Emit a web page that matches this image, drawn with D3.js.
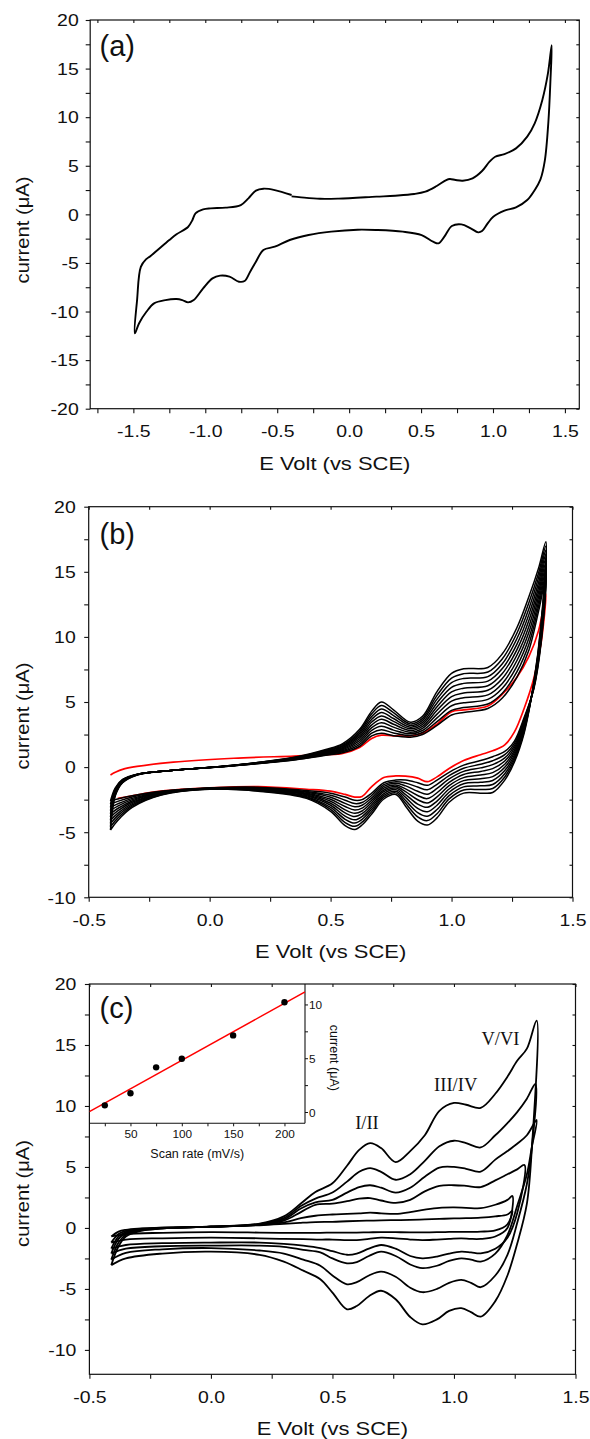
<!DOCTYPE html>
<html><head><meta charset="utf-8">
<script src="https://cdn.jsdelivr.net/npm/d3@7"></script>
<style>body{margin:0;background:#fff}svg{display:block}</style>
</head><body>
<script>
// ================= DATA =================
// ---- Panel (a): single CV loop, [E (V), I (uA)]
const aLoop = [
[-0.40,1.85],[-0.334,1.75],[-0.203,1.6],[-0.072,1.62],[0.19,1.82],[0.32,1.92],[0.452,2.09],[0.53,2.33],[0.609,2.92],[0.675,3.53],[0.70,3.64],[0.74,3.53],[0.79,3.46],[0.858,3.7],[0.924,4.46],[0.976,5.42],[1.015,5.93],[1.08,6.2],[1.16,6.79],[1.238,8.0],[1.29,9.37],[1.343,11.77],[1.382,14.5],[1.408,17.4],
[1.40,14.0],[1.385,9.5],[1.36,5.5],[1.33,3.6],[1.29,2.5],[1.238,1.47],[1.16,0.72],[1.08,0.38],[1.002,-0.24],[0.963,-0.93],[0.924,-1.72],[0.897,-1.85],[0.845,-1.44],[0.78,-1.03],[0.714,-1.2],[0.662,-2.3],[0.622,-2.98],[0.583,-2.81],[0.504,-2.13],[0.373,-1.78],[0.19,-1.61],[0.059,-1.58],[-0.125,-1.78],[-0.282,-2.13],[-0.413,-2.64],[-0.517,-3.33],[-0.596,-3.67],[-0.648,-4.87],[-0.688,-5.9],[-0.727,-6.86],[-0.766,-6.93],[-0.832,-6.41],[-0.897,-6.31],[-0.95,-6.59],[-1.015,-7.62],[-1.08,-8.82],[-1.12,-9.06],[-1.16,-8.82],[-1.2,-8.71],[-1.277,-8.82],[-1.356,-9.16],[-1.408,-10.0],[-1.46,-11.2],[-1.49,-12.25],
[-1.474,-8.8],[-1.448,-5.4],[-1.41,-4.6],[-1.382,-4.3],[-1.25,-2.64],[-1.2,-2.05],[-1.12,-1.3],[-1.09,-0.6],[-1.068,0.1],[-1.015,0.51],[-0.963,0.62],[-0.858,0.69],[-0.753,0.96],[-0.70,1.65],[-0.648,2.44],[-0.596,2.64],[-0.517,2.5],[-0.40,1.99]
];
const aXTickVals = [-1.5,-1.0,-0.5,0.0,0.5,1.0,1.5];
const aXTickLabels = ["-1.5","-1.0","-0.5","0.0","0.5","1.0","1.5"];
const aYTickVals = [-20,-15,-10,-5,0,5,10,15,20];
const aYTickLabels = ["-20","-15","-10","-5","0","5","10","15","20"];

// ---- Panel (b): repeated cycles; common potential grids
const bFwdE = [-0.41,-0.39,-0.36,-0.3,-0.15,0.1,0.35,0.48,0.55,0.62,0.67,0.71,0.76,0.83,0.88,0.94,1.0,1.05,1.15,1.21,1.27,1.32,1.36,1.39];
const bRevE = [1.37,1.34,1.3,1.26,1.22,1.17,1.12,1.05,0.99,0.94,0.9,0.86,0.81,0.77,0.72,0.67,0.63,0.6,0.56,0.5,0.4,0.2,0.0,-0.2,-0.32,-0.38];
const bCycleFwd = [
[-4.83,-2.2,-1.2,-0.6,-0.25,0.15,0.75,1.35,1.8,2.9,4.3,5.0,4.4,3.45,3.9,5.8,7.2,7.55,7.65,8.7,10.7,13.1,15.3,17.3],
[-4.58,-2.13,-1.17,-0.6,-0.25,0.14,0.73,1.3,1.72,2.76,4.09,4.73,4.18,3.32,3.74,5.51,6.84,7.18,7.3,8.32,10.28,12.64,14.93,16.99],
[-4.33,-2.07,-1.14,-0.59,-0.25,0.14,0.71,1.25,1.64,2.61,3.88,4.47,3.96,3.19,3.59,5.22,6.49,6.81,6.95,7.94,9.86,12.19,14.57,16.68],
[-4.09,-2.0,-1.12,-0.58,-0.25,0.13,0.68,1.2,1.57,2.47,3.67,4.2,3.73,3.07,3.43,4.93,6.13,6.43,6.6,7.57,9.43,11.73,14.2,16.37],
[-3.84,-1.93,-1.09,-0.58,-0.25,0.13,0.66,1.15,1.49,2.32,3.46,3.93,3.51,2.94,3.28,4.64,5.78,6.06,6.25,7.19,9.01,11.28,13.83,16.06],
[-3.59,-1.87,-1.06,-0.57,-0.25,0.12,0.64,1.1,1.41,2.18,3.24,3.67,3.29,2.81,3.12,4.36,5.42,5.69,5.9,6.81,8.59,10.82,13.47,15.74],
[-3.34,-1.8,-1.03,-0.57,-0.25,0.12,0.62,1.05,1.33,2.03,3.03,3.4,3.07,2.68,2.97,4.07,5.07,5.32,5.55,6.43,8.17,10.37,13.1,15.43],
[-3.09,-1.73,-1.0,-0.56,-0.25,0.11,0.6,1.0,1.26,1.89,2.82,3.13,2.84,2.56,2.81,3.78,4.71,4.94,5.2,6.06,7.74,9.91,12.73,15.12],
[-2.85,-1.67,-0.98,-0.56,-0.25,0.11,0.57,0.95,1.18,1.74,2.61,2.87,2.62,2.43,2.66,3.49,4.36,4.57,4.85,5.68,7.32,9.46,12.37,14.81],
[-2.6,-1.6,-0.95,-0.55,-0.25,0.1,0.55,0.9,1.1,1.6,2.4,2.6,2.4,2.3,2.5,3.2,4.0,4.2,4.5,5.3,6.9,9.0,12.0,14.5]
];
const bCycleRev = [
[11.0,6.5,2.6,0.4,-1.0,-1.95,-2.0,-2.0,-2.7,-3.9,-4.45,-4.15,-3.0,-2.1,-2.45,-3.6,-4.45,-4.8,-4.5,-3.4,-2.4,-1.85,-1.7,-2.15,-3.1,-4.1],
[10.83,6.44,2.73,0.58,-0.76,-1.64,-1.72,-1.76,-2.44,-3.58,-4.11,-3.82,-2.78,-1.98,-2.31,-3.42,-4.23,-4.55,-4.26,-3.24,-2.33,-1.82,-1.69,-2.12,-3.0,-3.92],
[10.67,6.39,2.87,0.76,-0.51,-1.34,-1.44,-1.52,-2.19,-3.26,-3.77,-3.49,-2.56,-1.86,-2.17,-3.24,-4.02,-4.3,-4.01,-3.09,-2.27,-1.78,-1.68,-2.08,-2.9,-3.73],
[10.5,6.33,3.0,0.93,-0.27,-1.03,-1.17,-1.28,-1.93,-2.93,-3.43,-3.17,-2.33,-1.73,-2.03,-3.07,-3.8,-4.05,-3.77,-2.93,-2.2,-1.75,-1.67,-2.05,-2.8,-3.55],
[10.33,6.28,3.13,1.11,-0.02,-0.73,-0.89,-1.04,-1.68,-2.61,-3.09,-2.84,-2.11,-1.61,-1.89,-2.89,-3.58,-3.8,-3.52,-2.78,-2.13,-1.72,-1.66,-2.02,-2.7,-3.37],
[10.17,6.22,3.27,1.29,0.22,-0.42,-0.61,-0.81,-1.42,-2.29,-2.76,-2.51,-1.89,-1.49,-1.76,-2.71,-3.37,-3.55,-3.28,-2.62,-2.07,-1.68,-1.64,-1.98,-2.6,-3.18],
[10.0,6.17,3.4,1.47,0.47,-0.12,-0.33,-0.57,-1.17,-1.97,-2.42,-2.18,-1.67,-1.37,-1.62,-2.53,-3.15,-3.3,-3.03,-2.47,-2.0,-1.65,-1.63,-1.95,-2.5,-3.0],
[9.83,6.11,3.53,1.64,0.71,0.19,-0.06,-0.33,-0.91,-1.64,-2.08,-1.86,-1.44,-1.24,-1.48,-2.36,-2.93,-3.05,-2.79,-2.31,-1.93,-1.62,-1.62,-1.92,-2.4,-2.82],
[9.67,6.06,3.67,1.82,0.96,0.49,0.22,-0.09,-0.66,-1.32,-1.74,-1.53,-1.22,-1.12,-1.34,-2.18,-2.72,-2.8,-2.54,-2.16,-1.87,-1.58,-1.61,-1.88,-2.3,-2.63],
[9.5,6.0,3.8,2.0,1.2,0.8,0.5,0.15,-0.4,-1.0,-1.4,-1.2,-1.0,-1.0,-1.2,-2.0,-2.5,-2.55,-2.3,-2.0,-1.8,-1.55,-1.6,-1.85,-2.2,-2.45]
];
const bFirstFwd = [-0.6,-0.4,-0.17,0.05,0.38,0.68,0.85,0.95,1.05,1.5,2.2,2.45,2.4,2.4,2.6,3.3,4.25,4.4,4.7,5.6,6.9,8.5,10.5,13.3];
const bFirstRev = [9.5,6.8,4.5,2.7,1.7,1.25,0.95,0.5,-0.1,-0.75,-1.12,-0.85,-0.7,-0.68,-0.8,-1.5,-2.25,-2.3,-2.1,-1.85,-1.7,-1.5,-1.6,-1.85,-2.2,-2.4];
const bXTickVals = [-0.5,0.0,0.5,1.0,1.5];
const bXTickLabels = ["-0.5","0.0","0.5","1.0","1.5"];
const bYTickVals = [-10,-5,0,5,10,15,20];
const bYTickLabels = ["-10","-5","0","5","10","15","20"];

// ---- Panel (c): six scan rates
const cFwdE = [-0.41,-0.38,-0.35,-0.3,-0.2,0.0,0.2,0.3,0.37,0.43,0.5,0.56,0.61,0.655,0.7,0.76,0.82,0.88,0.94,1.0,1.05,1.11,1.17,1.22,1.26,1.3];
const cRevE = [1.32,1.3,1.26,1.22,1.17,1.11,1.07,1.03,0.98,0.93,0.87,0.82,0.76,0.7,0.65,0.6,0.56,0.5,0.45,0.38,0.3,0.2,0.0,-0.2,-0.35];
const cScanFwd = [
[-3.05,-1.5,-0.7,-0.3,-0.05,0.1,0.35,0.95,2.0,2.95,3.66,5.1,6.4,6.95,6.55,5.4,6.3,7.6,9.6,10.25,10.1,9.85,11.0,12.4,13.7,14.7],
[-2.6,-1.2,-0.55,-0.25,-0.03,0.1,0.32,0.8,1.8,2.4,2.9,3.8,4.6,4.9,4.6,3.95,4.4,5.5,6.7,7.15,6.95,6.6,7.6,8.6,9.5,10.6],
[-2.1,-0.9,-0.45,-0.2,-0.02,0.1,0.3,0.7,1.6,2.1,2.3,2.9,3.35,3.5,3.3,2.9,3.3,4.2,4.95,5.0,4.85,4.62,5.6,6.3,6.9,7.6],
[-1.7,-0.7,-0.35,-0.15,0.0,0.1,0.28,0.6,1.3,1.9,2.0,2.2,2.4,2.45,2.25,2.05,2.3,3.0,3.45,3.5,3.45,3.35,3.9,4.4,4.8,null],
[-1.2,-0.5,-0.25,-0.1,0.02,0.1,0.25,0.45,0.8,1.0,1.1,1.15,1.2,1.25,1.2,1.15,1.3,1.5,1.65,1.68,1.65,1.62,1.9,2.3,null,null],
[-0.7,-0.3,-0.15,-0.05,0.02,0.1,0.22,0.33,0.42,0.48,0.5,0.55,0.58,0.6,0.62,0.64,0.66,0.7,0.74,0.78,0.8,0.85,0.95,1.1,null,null]
];
const cScanRev = [
[6.4,2.0,-1.3,-3.9,-6.0,-7.27,-6.9,-6.58,-6.8,-7.5,-7.9,-7.3,-5.85,-5.15,-5.6,-6.4,-6.67,-5.3,-4.2,-3.5,-2.76,-2.2,-1.95,-2.1,-2.5],
[6.5,3.6,0.4,-2.2,-3.9,-4.86,-4.5,-4.26,-4.5,-5.0,-5.27,-4.9,-4.0,-3.58,-3.9,-4.45,-4.62,-3.9,-3.1,-2.6,-2.1,-1.85,-1.65,-1.75,-2.05],
[6.6,4.4,1.8,-0.6,-2.1,-2.76,-2.6,-2.49,-2.7,-3.1,-3.3,-3.0,-2.3,-1.95,-2.3,-2.8,-2.9,-2.5,-2.0,-1.8,-1.55,-1.45,-1.45,-1.5,-1.7],
[null,null,1.2,-0.8,-1.7,-2.08,-2.0,-1.94,-2.1,-2.35,-2.49,-2.3,-1.7,-1.4,-1.7,-2.1,-2.2,-1.9,-1.65,-1.45,-1.3,-1.2,-1.2,-1.25,-1.4],
[null,null,null,0.0,-0.7,-0.9,-0.9,-0.85,-0.9,-0.95,-1.0,-0.95,-0.85,-0.8,-0.9,-1.0,-1.0,-0.95,-0.95,-0.92,-0.9,-0.85,-0.8,-0.85,-0.95],
[null,null,null,0.3,-0.2,-0.3,-0.32,-0.32,-0.33,-0.35,-0.36,-0.36,-0.35,-0.35,-0.36,-0.38,-0.38,-0.38,-0.4,-0.4,-0.4,-0.38,-0.35,-0.4,-0.5]
];
const cSwitchE = [1.34,1.335,1.34,1.29,1.24,1.24];
const cSwitchI = [17.0,11.8,8.85,5.16,2.62,1.4];
const cXTickVals = [-0.5,0.0,0.5,1.0,1.5];
const cXTickLabels = ["-0.5","0.0","0.5","1.0","1.5"];
const cYTickVals = [-10,-5,0,5,10,15,20];
const cYTickLabels = ["-10","-5","0","5","10","15","20"];
const cPeakNames = ["I/II","III/IV","V/VI"];
const cPeakE = [0.642,1.007,1.191];
const cPeakI = [8.1,11.2,15.0];

// ---- Inset (c): peak current vs scan rate
const insetScanRate = [25,50,75,100,150,200];
const insetCurrent = [0.62,1.74,4.15,4.95,7.12,10.2];
const insetFitX = [10,220];
const insetFitY = [0.03,11.17];
const insetXTickVals = [50,100,150,200];
const insetXTickLabels = ["50","100","150","200"];
const insetYTickVals = [0,5,10];
const insetYTickLabels = ["0","5","10"];

// ================= LAYOUT / STYLE =================
const SANS = "'Liberation Sans', Arial, Helvetica, sans-serif";
const SERIF = "'Liberation Serif', 'Times New Roman', serif";
const SX = 1.2; // horizontal widening of axis text seen in the reference

const svg = d3.select("body").append("svg").attr("width",590).attr("height",1439);
svg.append("rect").attr("width",590).attr("height",1439).attr("fill","#fff");

const layout = {
  a:{l:90.2,r:579.3,t:20,b:408.7,xd:[-1.8,1.6],yd:[-20,20],xMinor:[-1.75,1.5],yMinor:[-20,20],ytx:-11.5,ycy:230,lab:"(a)",laby:55.5,lw:1.9},
  b:{l:88.7,r:572.5,t:506.7,b:897.3,xd:[-0.5,1.5],yd:[-10,20],xMinor:[-0.5,1.5],yMinor:[-10,20],ytx:-13,ycy:716,lab:"(b)",laby:544,lw:1.5},
  c:{l:89.4,r:575.5,t:984,b:1374.3,xd:[-0.5,1.5],yd:[-12,20],xMinor:[-0.5,1.5],yMinor:[-10,20],ytx:-13,ycy:1193.5,lab:"(c)",laby:1018,lw:1.8}
};

function near(arr, v){ return arr.findIndex(a => Math.abs(a - v) < 1e-6); }

function makePanel(p, xVals, xLabels, yVals, yLabels){
  const x = d3.scaleLinear().domain(p.xd).range([p.l,p.r]);
  const y = d3.scaleLinear().domain(p.yd).range([p.b,p.t]);
  const g = svg.append("g");
  const allX = d3.range(Math.round((p.xMinor[1]-p.xMinor[0])/0.25)+1).map(i => +(p.xMinor[0]+i*0.25).toFixed(3));
  const allY = d3.range(Math.round((p.yMinor[1]-p.yMinor[0])/2.5)+1).map(i => +(p.yMinor[0]+i*2.5).toFixed(3));
  const fx = d => { const i = near(xVals,d); return i<0 ? "" : xLabels[i]; };
  const fy = d => { const i = near(yVals,d); return i<0 ? "" : yLabels[i]; };

  const gb = g.append("g").attr("transform",`translate(0,${p.b})`)
    .call(d3.axisBottom(x).tickValues(allX).tickSize(4.5).tickSizeOuter(0).tickFormat(fx));
  const gl = g.append("g").attr("transform",`translate(${p.l},0)`)
    .call(d3.axisLeft(y).tickValues(allY).tickSize(4.5).tickSizeOuter(0).tickFormat(fy));
  const gt = g.append("g").attr("transform",`translate(0,${p.t})`)
    .call(d3.axisTop(x).tickValues(allX).tickSize(-3).tickSizeOuter(0).tickFormat(""));
  const gr = g.append("g").attr("transform",`translate(${p.r},0)`)
    .call(d3.axisRight(y).tickValues(allY).tickSize(-3).tickSizeOuter(0).tickFormat(""));
  [gb,gl,gt,gr].forEach(a => { a.select(".domain").remove(); a.selectAll("line").attr("stroke","#111").attr("stroke-width",1.1); });
  gb.selectAll("text").attr("y",null).attr("dy",null).attr("fill","#111")
    .attr("font-family",SANS).attr("font-size",16.2)
    .attr("transform",`translate(0,28.3) scale(${SX},1)`);
  gl.selectAll("text").attr("x",null).attr("dy",null).attr("fill","#111")
    .attr("font-family",SANS).attr("font-size",16.2)
    .attr("transform",`translate(${p.ytx},5.8) scale(${SX},1)`);

  g.append("rect").attr("x",p.l).attr("y",p.t).attr("width",p.r-p.l).attr("height",p.b-p.t)
    .attr("fill","none").attr("stroke","#111").attr("stroke-width",1.2);

  g.append("text").text("E Volt (vs SCE)").attr("font-family",SANS).attr("font-size",18).attr("fill","#111")
    .attr("text-anchor","middle").attr("transform",`translate(${(p.l+p.r)/2},${p.b+61}) scale(1.22,1)`);
  g.append("text").text("current (\u03BCA)").attr("font-family",SANS).attr("font-size",18).attr("fill","#111")
    .attr("text-anchor","middle").attr("transform",`translate(28.5,${p.ycy}) rotate(-90) scale(1.12,1)`);
  g.append("text").text(p.lab).attr("font-family",SANS).attr("font-size",29).attr("fill","#111")
    .attr("x",99.5).attr("y",p.laby);
  const line = d3.line().x(d => x(d[0])).y(d => y(d[1])).curve(d3.curveCatmullRom.alpha(0.5));
  return {x,y,g,line};
}

// ---- Panel (a)
{
  const P = makePanel(layout.a, aXTickVals, aXTickLabels, aYTickVals, aYTickLabels);
  P.g.append("path").attr("d",P.line(aLoop)).attr("fill","none").attr("stroke","#000").attr("stroke-width",layout.a.lw);
}

// ---- Panel (b)
{
  const P = makePanel(layout.b, bXTickVals, bXTickLabels, bYTickVals, bYTickLabels);
  const first = bFwdE.map((e,i)=>[e,bFirstFwd[i]]).concat(bRevE.map((e,i)=>[e,bFirstRev[i]]));
  P.g.append("path").attr("d",P.line(first)).attr("fill","none").attr("stroke","#ff0000").attr("stroke-width",1.7);
  bCycleFwd.forEach((fw,k) => {
    const pts = bFwdE.map((e,i)=>[e,fw[i]]).concat(bRevE.map((e,i)=>[e,bCycleRev[k][i]]));
    pts.push([bFwdE[0], fw[0]]);
    P.g.append("path").attr("d",P.line(pts)).attr("fill","none").attr("stroke","#000").attr("stroke-width",layout.b.lw);
  });
}

// ---- Panel (c)
{
  const P = makePanel(layout.c, cXTickVals, cXTickLabels, cYTickVals, cYTickLabels);
  cScanFwd.forEach((fw,k) => {
    const pts = [];
    cFwdE.forEach((e,i) => { if (fw[i] !== null) pts.push([e,fw[i]]); });
    pts.push([cSwitchE[k], cSwitchI[k]]);
    cRevE.forEach((e,i) => { const v = cScanRev[k][i]; if (v !== null) pts.push([e,v]); });
    pts.push([cFwdE[0], fw[0]]);
    P.g.append("path").attr("d",P.line(pts)).attr("fill","none").attr("stroke","#000").attr("stroke-width",layout.c.lw);
  });
  cPeakNames.forEach((n,i) => {
    P.g.append("text").text(n).attr("font-family",SERIF).attr("font-size",18.5).attr("fill","#111")
      .attr("text-anchor","middle").attr("x",P.x(cPeakE[i])).attr("y",P.y(cPeakI[i]));
  });

  // ---- Inset
  const L = layout.c;
  const inset = {l:L.l, r:305, t:L.t, b:1123.3};
  const ix = d3.scaleLinear().domain([10,220]).range([inset.l,inset.r]);
  const iy = d3.scaleLinear().domain([-1.05,11.9]).range([inset.b,inset.t]);
  const ig = svg.append("g");
  svg.append("defs").append("clipPath").attr("id","insetClip").append("rect")
    .attr("x",inset.l).attr("y",inset.t).attr("width",inset.r-inset.l).attr("height",inset.b-inset.t);
  const ixb = ig.append("g").attr("transform",`translate(0,${inset.b})`)
    .call(d3.axisBottom(ix).tickValues([25,50,75,100,125,150,175,200]).tickSize(3).tickSizeOuter(0)
      .tickFormat(d => { const i = near(insetXTickVals,d); return i<0 ? "" : insetXTickLabels[i]; }));
  const iyr = ig.append("g").attr("transform",`translate(${inset.r},0)`)
    .call(d3.axisRight(iy).tickValues([0,2.5,5,7.5,10]).tickSize(3).tickSizeOuter(0)
      .tickFormat(d => { const i = near(insetYTickVals,d); return i<0 ? "" : insetYTickLabels[i]; }));
  [ixb,iyr].forEach(a => { a.select(".domain").remove(); a.selectAll("line").attr("stroke","#111"); });
  ixb.selectAll("text").attr("y",15).attr("dy",null).attr("font-family",SANS).attr("font-size",11.8).attr("fill","#111");
  iyr.selectAll("text").attr("x",4).attr("dy","0.36em").attr("font-family",SANS).attr("font-size",11.8).attr("fill","#111");
  ig.append("line").attr("x1",inset.l).attr("x2",inset.r).attr("y1",inset.b).attr("y2",inset.b).attr("stroke","#111").attr("stroke-width",1.1);
  ig.append("line").attr("x1",inset.r).attr("x2",inset.r).attr("y1",inset.t).attr("y2",inset.b).attr("stroke","#111").attr("stroke-width",1.1);
  ig.append("line").attr("clip-path","url(#insetClip)")
    .attr("x1",ix(insetFitX[0])).attr("y1",iy(insetFitY[0])).attr("x2",ix(insetFitX[1])).attr("y2",iy(insetFitY[1]))
    .attr("stroke","#ff0000").attr("stroke-width",1.4);
  ig.selectAll("circle.pt").data(insetScanRate).enter().append("circle")
    .attr("cx",(d)=>ix(d)).attr("cy",(d,i)=>iy(insetCurrent[i])).attr("r",3.2).attr("fill","#000");
  ig.append("text").text("Scan rate (mV/s)").attr("font-family",SANS).attr("font-size",12.5).attr("fill","#111")
    .attr("text-anchor","middle").attr("x",(inset.l+inset.r)/2).attr("y",1158.3);
  ig.append("text").text("current (\u03BCA)").attr("font-family",SANS).attr("font-size",12.5).attr("fill","#111")
    .attr("text-anchor","middle").attr("transform",`translate(329.5,1057.8) rotate(90)`);
}
</script>
</body></html>
